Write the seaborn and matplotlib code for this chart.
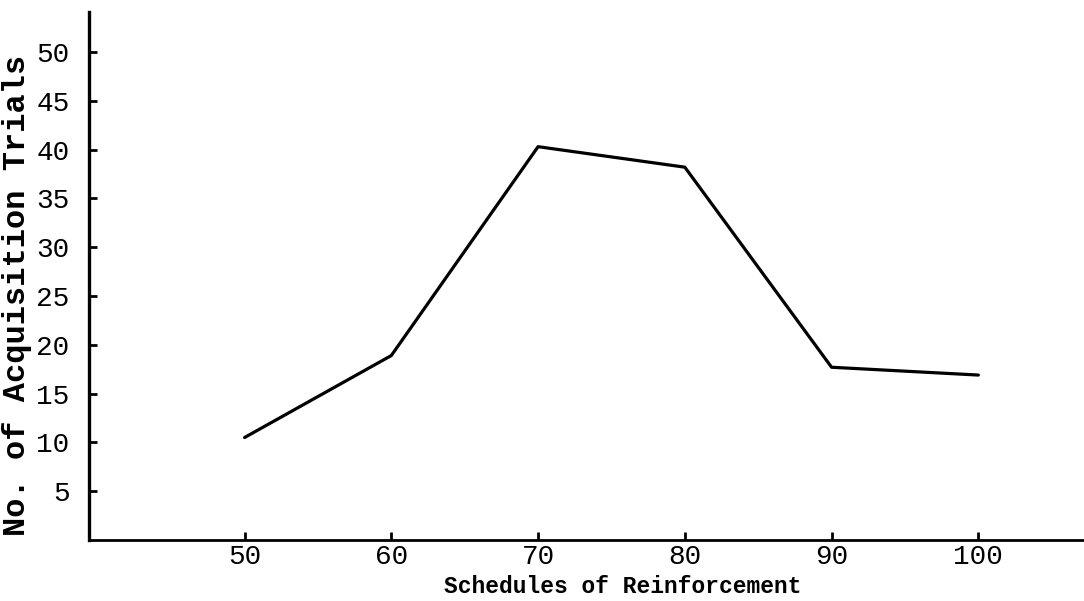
import matplotlib
matplotlib.use("Agg")
import matplotlib.pyplot as plt
import numpy as np
import pandas as pd
import seaborn as sns

# values
schedules = [50, 60, 70, 80, 90, 100]
trials = [10.5, 18.9, 40.3, 38.2, 17.7, 16.9]
x_ticks = [50, 60, 70, 80, 90, 100]
y_ticks = [5, 10, 15, 20, 25, 30, 35, 40, 45, 50]


def plot_trials():
    df = pd.DataFrame({'Schedule': schedules, 'Trials': trials})

    sns.set_style('white', {'xtick.direction': 'in', 'ytick.direction': 'in'})
    plt.rcParams['font.family'] = ['Liberation Mono', 'DejaVu Sans Mono']

    fig = plt.figure(figsize=(10.84, 6.01), dpi=100)
    ax = fig.add_axes([89 / 1084, 61 / 601, 995 / 1084, 528 / 601])

    sns.lineplot(data=df, x='Schedule', y='Trials', ax=ax,
                 color='black', linewidth=2.3)

    ax.set_xlim(39.4, 107.2)
    ax.set_ylim(0, 54.1)
    ax.set_xticks(x_ticks)
    ax.set_yticks(y_ticks)
    ax.tick_params(axis='both', direction='in', length=6, width=2,
                   color='black', labelsize=20, labelcolor='black',
                   left=True, bottom=True)
    ax.tick_params(axis='x', pad=3)
    ax.tick_params(axis='y', pad=14)

    sns.despine(ax=ax)
    ax.spines['left'].set_linewidth(2.4)
    ax.spines['bottom'].set_linewidth(2.0)
    ax.spines['left'].set_color('black')
    ax.spines['bottom'].set_color('black')

    ax.set_xlabel('Schedules of Reinforcement', fontsize=16.5,
                  fontweight='bold', color='black')
    ax.set_ylabel('No. of Acquisition Trials', fontsize=23,
                  fontweight='bold', color='black')
    ax.xaxis.set_label_coords(0.536, -0.066)
    ax.yaxis.set_label_coords(-0.057, 0.464)

    fig.savefig('out.png', dpi=100)


def main():
    return plot_trials()


if __name__ == "__main__":
    main()
